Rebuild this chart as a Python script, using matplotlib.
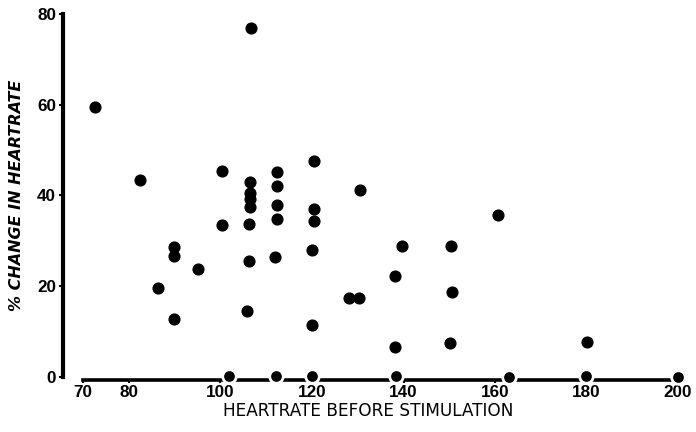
import matplotlib.pyplot as plt
import numpy as np

# heart rate before stimulation (bpm) and % change after stimulation
rate = [72.6, 82.5, 100.4, 106.7, 106.5, 106.5, 106.5, 106.5,
        112.4, 112.4, 112.4, 112.4, 120.5, 120.5, 120.5,
        100.4, 106.3, 89.9, 89.9, 95.1, 106.3, 112.0, 120.0,
        86.4, 89.9, 105.8, 120.0, 128.1, 130.3,
        139.7, 150.4, 138.2, 150.6, 138.2, 150.2, 180.1, 160.7, 130.5]
change = [59.5, 43.5, 45.5, 77.0, 43.0, 40.5, 39.2, 37.5,
          45.2, 42.0, 37.8, 34.8, 47.5, 37.0, 34.3,
          33.5, 33.8, 28.7, 26.6, 23.8, 25.5, 26.5, 28.0,
          19.6, 12.7, 14.5, 11.5, 17.5, 17.3,
          28.8, 28.8, 22.2, 18.8, 6.6, 7.5, 7.8, 35.8, 41.2]

# subjects with no change
zero_rate = [101.9, 112.2, 120.0, 138.4, 163.1, 179.9, 200.0]
zero_change = [0.3, 0.3, 0.3, 0.1, -0.1, 0.1, -0.1]

x_ticks = [70, 80, 100, 120, 140, 160, 180, 200]
y_ticks = [0, 20, 40, 60, 80]

fig = plt.figure(figsize=(6.96, 4.32), dpi=100)
ax = fig.add_axes([63 / 696, 1 - 386 / 432, 627 / 696, 372 / 432])

ax.set_xlim(65.6, 202.6)
ax.set_ylim(-2, 80)

for side in ['top', 'right']:
    ax.spines[side].set_visible(False)
ax.spines['left'].set_bounds(0, 80)
ax.spines['left'].set_linewidth(3)
ax.spines['bottom'].set_position(('data', -0.6))
ax.spines['bottom'].set_bounds(70, 200)
ax.spines['bottom'].set_linewidth(2.6)

ax.set_xticks(x_ticks)
ax.set_yticks(y_ticks)
ax.tick_params(axis='y', direction='out', length=3, width=1.5, pad=2)
ax.tick_params(axis='x', direction='out', length=2, width=1.5, pad=2)
for lab in ax.get_xticklabels() + ax.get_yticklabels():
    lab.set_family('Liberation Sans')
    lab.set_fontweight('bold')
    lab.set_fontsize(12.3)

ax.scatter(rate, change, s=60, color='black', zorder=3, clip_on=False)
# white rim breaks the baseline around each zero point
ax.scatter(zero_rate, zero_change, s=95, color='black', edgecolor='white',
           linewidth=2.0, zorder=3, clip_on=False)

fig.text(368 / 696, 1 - 411 / 432, 'HEARTRATE BEFORE STIMULATION',
         ha='center', va='center', fontsize=12.2)
fig.text(17 / 696, 1 - 195 / 432, '% CHANGE IN HEARTRATE', rotation=90,
         ha='center', va='center', fontsize=11.5, fontweight='bold',
         fontstyle='italic')

fig.savefig('out.png', dpi=100)
